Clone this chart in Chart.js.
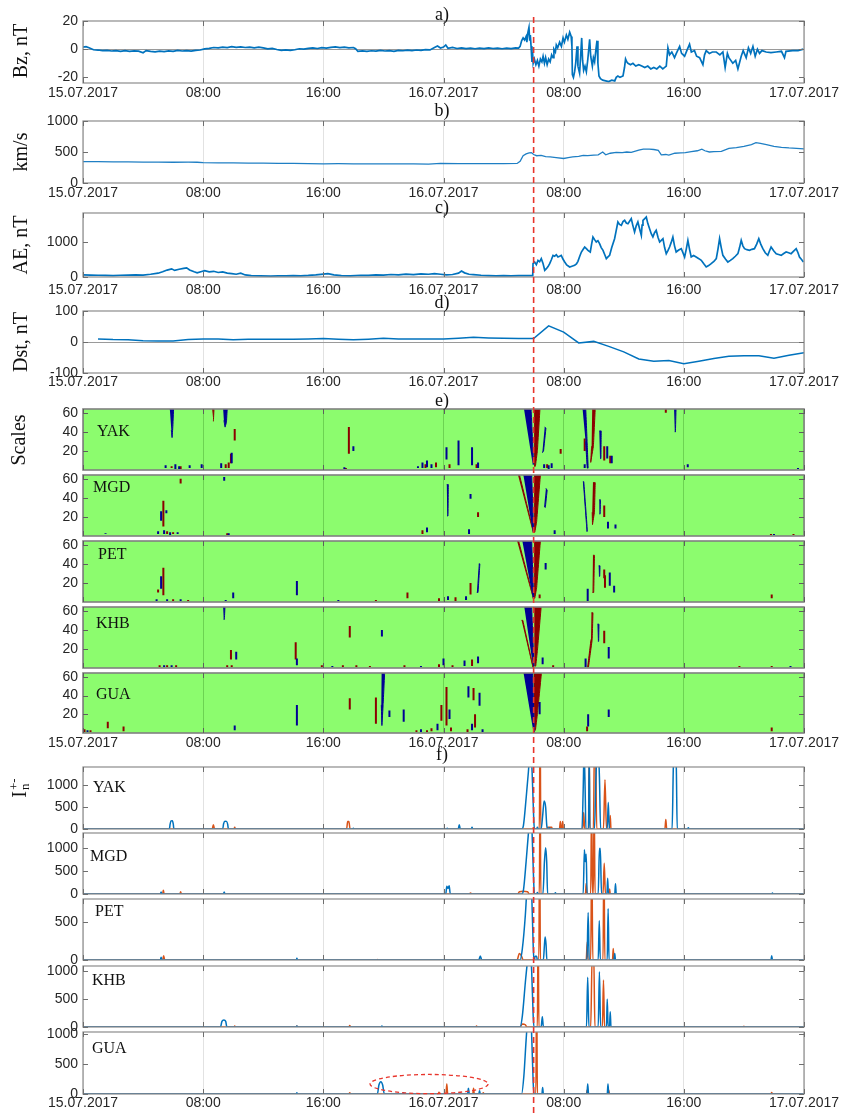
<!DOCTYPE html>
<html><head><meta charset="utf-8">
<script src="https://cdn.jsdelivr.net/npm/chart.js@4.4.1/dist/chart.umd.min.js"></script>
<style>
html,body{margin:0;padding:0;background:#fff;}
#fig{position:relative;width:846px;height:1113px;overflow:hidden;background:#fff;}
#fig canvas{position:absolute;left:0;}
.t{position:absolute;font-family:'Liberation Serif','DejaVu Serif',serif;font-size:18px;color:#111;white-space:nowrap;transform:translate(-50%,-50%);z-index:7;}
.st{position:absolute;font-family:'Liberation Serif','DejaVu Serif',serif;font-size:16px;color:#111;white-space:nowrap;transform:translateY(-50%);z-index:7;}
.rot{position:absolute;font-family:'Liberation Serif','DejaVu Serif',serif;font-size:20px;color:#111;white-space:nowrap;transform:translate(-50%,-50%) rotate(-90deg);z-index:7;}
</style></head><body><div id="fig"></div>
<script>
// ---------------- DATA (time in hours from 15.07.2017 00:00) ----------------
const TIME_TICK_HOURS = [0, 8, 16, 24, 32, 40, 48];
const TIME_TICK_LABELS = ['15.07.2017','08:00','16:00','16.07.2017','08:00','16:00','17.07.2017'];
const EVENT_HOUR = 30;

const bzData = [[0,1.5],[0.2,1.8],[0.4,1.0],[0.7,-0.4],[1.0,-0.6],[1.3,-1.0],[1.6,-0.8],[1.9,-1.3],[2.2,-1.0],[2.5,-1.5],[2.8,-1.1],[3.1,-1.6],[3.4,-1.2],[3.7,-1.4],[4.0,-2.5],[4.2,-1.0],[4.5,-1.6],[4.8,-1.9],[5.1,-1.4],[5.4,-1.7],[5.7,-1.2],[6.0,-1.5],[6.3,-0.9],[6.6,-1.3],[6.9,-1.0],[7.2,-1.4],[7.5,-0.8],[7.8,-0.6],[8.1,0.2],[8.4,0.6],[8.7,1.2],[9.0,0.9],[9.3,1.5],[9.6,1.1],[9.9,1.8],[10.2,1.3],[10.5,1.6],[10.8,1.2],[11.1,1.5],[11.4,1.0],[11.7,1.4],[12.0,0.9],[12.3,0.2],[12.6,0.6],[12.9,-0.2],[13.2,-0.8],[13.5,-0.5],[13.8,-0.9],[14.1,-0.4],[14.4,0.3],[14.7,0.0],[15.0,0.6],[15.3,0.9],[15.6,0.5],[15.9,1.1],[16.2,0.7],[16.5,1.3],[16.8,1.6],[17.1,1.1],[17.4,1.5],[17.7,1.0],[18.0,1.2],[18.15,0.3],[18.3,-1.6],[18.6,-1.2],[18.9,-1.6],[19.2,-1.1],[19.5,-1.4],[19.8,-0.9],[20.1,-1.3],[20.4,-1.0],[20.7,-1.5],[21.0,-0.8],[21.3,-1.1],[21.6,-0.7],[21.9,-1.0],[22.2,-0.6],[22.5,-0.9],[22.8,-0.3],[23.1,-0.5],[23.4,1.2],[23.6,2.2],[23.8,0.8],[24.0,1.5],[24.15,3.0],[24.3,0.6],[24.6,1.3],[24.9,0.5],[25.2,0.9],[25.5,0.4],[25.8,0.8],[26.1,0.3],[26.4,0.7],[26.7,0.4],[27.0,0.9],[27.3,0.5],[27.6,0.8],[27.9,0.3],[28.2,0.7],[28.5,0.4],[28.8,0.9],
[29.0,0.8],[29.1,2],[29.2,6],[29.3,8],[29.4,6.5],[29.5,9],[29.55,5],[29.62,12],[29.69,15.5],[29.74,6],[29.78,10],[29.83,2],[29.89,-9],[29.93,-2],[29.97,-10],[30.05,-7],[30.15,-11],[30.25,-8],[30.35,-12],[30.45,-7],[30.55,-9],[30.63,-5],[30.72,-10],[30.8,-6],[30.9,-11],[31.0,-7],[31.1,-9],[31.2,-4],[31.29,-6],[31.35,0],[31.45,-2],[31.51,3],[31.6,1],[31.73,5],[31.85,2],[31.96,8],[32.05,5],[32.18,10],[32.28,7],[32.4,12],[32.5,9],[32.55,2],[32.58,-18],[32.65,-20],[32.73,-16],[32.8,-10],[32.89,2],[32.95,-12],[33.06,-17],[33.13,-5],[33.2,8],[33.26,-8],[33.33,-15],[33.42,-12],[33.51,-16],[33.6,-8],[33.73,7],[33.8,-5],[33.91,-12],[33.98,-6],[34.06,-9],[34.15,0],[34.22,6],[34.28,-10],[34.35,-19],[34.45,-21],[34.6,-22],[34.8,-22.5],[35.0,-23],[35.2,-22],[35.4,-22.5],[35.5,-20],[35.61,-19],[35.75,-20],[35.95,-19],[36.05,-13],[36.12,-7],[36.2,-9],[36.28,-10],[36.45,-11],[36.61,-10],[36.8,-12],[37.0,-11],[37.2,-12],[37.4,-13],[37.6,-12],[37.8,-14],[38.0,-13],[38.2,-14],[38.4,-12],[38.6,-14],[38.83,-12],[38.94,1],[39.05,-4],[39.2,-2],[39.38,-6],[39.5,-3],[39.72,2],[39.85,-3],[40.05,-5],[40.2,-1],[40.38,3.5],[40.5,-2],[40.71,-1],[40.85,-5],[41.05,-6],[41.27,-11],[41.38,-4],[41.49,-1],[41.7,-3],[41.9,-2],[42.16,-2],[42.4,-4],[42.6,-2],[42.75,-13],[42.9,-3],[43.0,-6],[43.26,-10],[43.45,-8],[43.6,-14],[43.82,-5],[43.95,-1],[44.15,-6],[44.3,1],[44.45,-3],[44.6,2],[44.75,-5],[44.9,0],[45.04,-3],[45.2,-1],[45.48,-2],[45.8,-2.5],[46.15,-2],[46.5,-1.5],[46.7,-6],[46.8,-1.5],[47.25,-1],[47.6,-1],[47.96,0]];

const vswData = [[0,345],[1,344],[2,342],[3,340],[4,338],[5,337],[6,335],[7,336],[7.6,335],[8,328],[9,326],[10,325],[11,322],[12,320],[13,318],[14,315],[15,312],[16,310],[17,311],[18,310],[19,309],[20,308],[21,310],[22,310],[23,305],[23.8,318],[25,312],[26,312],[27,313],[28,313],[28.9,315],[29.1,350],[29.3,440],[29.5,470],[29.7,485],[29.85,490],[30.0,460],[30.2,440],[30.5,445],[30.8,425],[31.1,420],[31.5,410],[32,395],[32.3,410],[32.6,420],[33,430],[33.3,445],[33.6,440],[34,450],[34.3,455],[34.6,500],[34.8,455],[35.1,480],[35.5,495],[35.9,490],[36.2,500],[36.5,495],[37,530],[37.3,545],[37.7,545],[38,540],[38.3,525],[38.5,455],[38.8,460],[39,450],[39.4,480],[39.8,485],[40.1,490],[40.5,505],[40.9,520],[41.2,545],[41.4,520],[41.7,500],[42,505],[42.5,510],[43,560],[43.5,570],[44,590],[44.5,620],[44.8,650],[45.1,640],[45.5,620],[46,590],[46.5,575],[47,565],[47.5,560],[48,550]];

const aeData = [[0,60],[0.5,55],[1,50],[1.5,45],[2,42],[2.5,50],[3,55],[3.5,62],[4,55],[4.5,80],[5,110],[5.3,150],[5.6,200],[5.9,235],[6.1,190],[6.4,225],[6.7,250],[6.9,265],[7.1,205],[7.4,150],[7.6,120],[7.9,160],[8.1,185],[8.4,150],[8.7,165],[9.0,130],[9.3,145],[9.6,110],[9.9,100],[10.2,80],[10.5,110],[10.8,60],[11.2,40],[11.8,30],[12.5,25],[13,35],[13.5,30],[14,42],[14.5,35],[15,45],[15.5,60],[16,85],[16.3,95],[16.7,60],[17.2,40],[17.8,35],[18.5,50],[19,45],[19.5,62],[20,55],[20.5,72],[21,60],[21.5,82],[22,70],[22.5,92],[23,80],[23.4,100],[23.8,80],[24.2,60],[24.6,72],[25,110],[25.2,170],[25.4,120],[25.7,80],[26,70],[26.5,50],[27,42],[27.5,35],[28,42],[28.5,35],[29,38],[29.5,40],[29.94,42],
[29.96,385],[30.07,430],[30.18,356],[30.29,480],[30.4,440],[30.51,530],[30.62,400],[30.74,193],[30.85,241],[30.96,300],[31.07,385],[31.18,500],[31.29,626],[31.4,600],[31.51,645],[31.62,578],[31.73,600],[31.84,626],[31.95,520],[32.07,433],[32.2,350],[32.4,289],[32.55,310],[32.73,337],[32.85,380],[32.95,453],[33.07,600],[33.18,722],[33.3,800],[33.4,867],[33.51,820],[33.62,771],[33.7,740],[33.77,722],[33.86,950],[33.95,1156],[34.06,1080],[34.17,1012],[34.28,1050],[34.39,963],[34.5,850],[34.62,771],[34.73,650],[34.84,530],[34.95,580],[35.06,626],[35.2,850],[35.39,1108],[35.5,1350],[35.61,1590],[35.72,1520],[35.84,1493],[35.95,1600],[36.06,1638],[36.17,1560],[36.28,1541],[36.4,1620],[36.5,1686],[36.6,1500],[36.72,1300],[36.83,1480],[36.94,1590],[37.05,1400],[37.17,1204],[37.22,1500],[37.28,1638],[37.4,1690],[37.5,1734],[37.6,1550],[37.72,1397],[37.83,1250],[37.94,1156],[38.05,1280],[38.16,1349],[38.28,1150],[38.39,1012],[38.5,1060],[38.61,1108],[38.72,850],[38.83,674],[38.94,760],[39.05,867],[39.16,1000],[39.27,1156],[39.38,900],[39.49,722],[39.66,780],[39.83,819],[39.94,700],[40.05,578],[40.16,800],[40.27,1060],[40.38,800],[40.49,578],[40.65,620],[40.82,578],[41.0,530],[41.16,482],[41.33,380],[41.49,289],[41.65,330],[41.82,385],[42.0,450],[42.16,530],[42.27,800],[42.38,1108],[42.49,850],[42.6,626],[42.77,520],[42.93,433],[43.1,480],[43.26,530],[43.43,600],[43.6,674],[43.71,850],[43.82,1060],[43.93,900],[44.04,819],[44.2,790],[44.37,771],[44.53,800],[44.7,819],[44.85,950],[44.99,1108],[45.12,950],[45.26,819],[45.42,700],[45.59,626],[45.7,750],[45.81,867],[45.98,760],[46.15,674],[46.31,650],[46.48,626],[46.65,680],[46.81,722],[46.98,700],[47.14,674],[47.31,750],[47.48,819],[47.6,700],[47.7,578],[47.85,500],[47.96,433]];

const dstHours = [1,2,3,4,5,6,7,8,9,10,11,12,13,14,15,16,17,18,19,20,21,22,23,24,25,26,27,28,29,30,31,32,33,34,35,36,37,38,39,40,41,42,43,44,45,46,47,48];
const dstValues = [10,8,7.5,4,3,3,8,10,10,7,9,9,9,9,10,11,9,7,9,12,10,10,10,10,12,15,13,12,11,11,52,32,-3,2,-14,-32,-55,-62,-60,-70,-62,-53,-46,-44,-44,-52,-43,-35];

// Scale maps (e): thin marks [hour, scaleFrom, scaleTo]; shapes = outlines [hour, scale]
const yakBlueMarks = [[5.5,2,5],[6.15,1,6],[6.4,1,4],[7.1,2,5],[7.9,2,6],[9.2,2,7],[9.9,7,18],[18.0,20,25],[17.4,1,3],[22.3,2,4],[22.6,2,8],[22.9,3,10],[23.2,2,6],[24.2,11,24],[25.0,5,31],[25.9,5,24],[26.3,2,8],[30.7,2,6],[31.0,1,5],[31.2,2,7],[33.4,2,6],[34.9,12,25],[35.2,7,15],[40.26,3,6],[47.6,1,2]];
const yakRedMarks = [[5.9,2,4],[6.5,1,4],[9.5,2,6],[9.7,2,8],[9.85,7,17],[10.1,31,43],[17.7,17,45],[17.5,1,2],[22.8,2,6],[23.5,3,8],[24.4,2,6],[26.2,2,6],[30.9,2,6],[31.8,17,22],[33.4,20,33],[34.7,10,25],[35.1,7,15],[38.8,60,64]];
const yakBlueShapes = [[[5.78,64],[6.03,64],[5.98,45],[5.93,34],[5.88,42]],[[9.33,64],[9.6,64],[9.55,50],[9.46,45],[9.38,52]],[[29.36,64],[29.83,64],[30.0,6],[29.94,6]],[[30.74,45],[30.82,44],[30.66,20],[30.58,18]],[[33.26,64],[33.47,64],[33.56,30],[33.63,2],[33.57,2],[33.46,30]],[[34.37,41],[34.5,41],[34.48,12],[34.42,12]],[[39.35,64],[39.48,64],[39.44,40],[39.4,40]]];
const yakRedShapes = [[[8.6,64],[8.72,64],[8.68,51]],[[30.03,64],[30.42,64],[30.25,20],[30.12,4],[30.03,4]],[[33.9,64],[34.1,64],[33.98,25],[33.8,8],[33.86,25]]];

const mgdBlueMarks = [[5.2,16,26],[5.55,24,27],[9.4,58,62],[5.0,2,5],[5.4,2,6],[5.8,1,4],[6.3,2,4],[1.5,2,3],[9.7,1,3],[25.8,39,44],[25.7,2,7],[22.9,4,9],[31.4,2,6],[34.95,8,15],[35.45,8,12],[46,1,2]];
const mgdRedMarks = [[6.5,55,60],[5.35,10,37],[5.6,2,5],[6.0,2,4],[9.6,1,3],[26.3,20,25],[22.6,2,6],[34.7,20,32],[45.8,1,2],[47.3,1,2]];
const mgdBlueShapes = [[[24.22,54],[24.32,54],[24.3,21],[24.25,21]],[[29.32,64],[29.87,64],[30.0,4],[29.95,4]],[[30.82,50],[30.9,48],[30.78,30],[30.7,31]],[[33.28,57],[33.34,57],[33.58,5],[33.52,5]],[[34.37,38],[34.45,38],[34.43,23],[34.39,23]]];
const mgdRedShapes = [[[28.96,64],[29.06,64],[30.0,4],[29.95,4]],[[30.03,64],[30.45,64],[30.2,15],[30.08,4],[30.03,4]],[[33.95,56],[34.1,56],[34.05,25],[33.92,12],[33.9,25]]];

const petBlueMarks = [[5.2,14,27],[10.0,4,10],[14.24,7,22],[33.6,1,14],[35.07,17,31],[35.36,10,17],[30.8,34,41],[24.3,2,6],[25.5,2,6],[4.9,1,3],[5.6,1,3],[6.5,1,3],[9.5,1,2],[17.0,1,2]];
const petRedMarks = [[5.35,7,36],[5.0,10,13],[6.0,1,3],[7.0,1,2],[19.5,1,2],[21.6,4,10],[23.7,1,4],[24.8,1,5],[25.8,8,20],[30.4,4,8],[34.7,25,34],[34.75,15,28],[45.85,4,8]];
const petBlueShapes = [[[26.35,40],[26.42,40],[26.3,10],[26.22,10]],[[29.25,64],[29.87,64],[30.0,4],[29.95,4]],[[34.33,38],[34.42,38],[34.4,27],[34.35,27]]];
const petRedShapes = [[[28.9,64],[29.0,64],[30.0,4],[29.95,4]],[[30.03,64],[30.45,64],[30.2,15],[30.08,4],[30.03,4]],[[33.95,49],[34.05,49],[34.0,10],[33.92,10]]];

const khbBlueMarks = [[10.2,9,17],[14.24,3,10],[19.9,33,40],[24.0,3,10],[25.4,2,8],[26.3,5,12],[30.6,4,11],[35.0,10,22],[33.46,1,10],[5.4,1,3],[5.9,1,3],[16.6,1,2],[22.5,1,2],[47.1,1,2]];
const khbRedMarks = [[9.85,9,19],[14.16,9,27],[17.76,32,44],[5.1,1,3],[5.6,1,3],[6.2,1,3],[9.6,1,3],[9.9,1,3],[15.9,1,3],[17.3,1,3],[18.2,1,3],[19.1,1,2],[21.4,1,3],[23.7,1,4],[24.6,1,3],[25.9,2,9],[31.3,1,3],[34.7,26,39],[43.7,1,2],[45.85,1,2]];
const khbBlueShapes = [[[9.33,64],[9.45,64],[9.41,51],[9.37,51]],[[29.38,64],[29.87,64],[30.02,2],[29.96,2]],[[34.25,46],[34.35,46],[34.33,28],[34.28,28]]];
const khbRedShapes = [[[29.2,50],[29.28,50],[29.97,1],[29.92,1]],[[30.04,64],[30.5,64],[30.25,18],[30.14,2],[30.05,2]],[[33.85,58],[33.95,58],[33.9,30],[33.65,1],[33.6,1],[33.82,30]]];

const guaBlueMarks = [[10.1,3,8],[14.24,8,30],[20.4,17,24],[21.35,12,25],[23.6,3,10],[24.4,15,25],[25.66,38,50],[25.9,3,10],[26.4,29,43],[30.4,20,33],[33.63,7,20],[35.0,17,25],[0.3,1,3],[22.5,1,4],[26.6,1,4]];
const guaRedMarks = [[0.1,1,4],[0.5,1,3],[1.65,5,12],[2.7,2,7],[17.76,25,37],[19.5,10,38],[22.2,1,3],[22.9,1,3],[23.2,2,5],[23.86,13,30],[24.2,8,49],[24.5,2,6],[26.0,35,48],[26.1,6,20],[25.6,1,4],[33.56,2,7],[45.85,2,6]];
const guaBlueShapes = [[[19.88,64],[20.08,64],[19.98,30],[19.9,8],[19.86,30]],[[29.33,64],[29.93,64],[30.05,0],[30.0,0]]];
const guaRedShapes = [[[30.0,64],[30.52,64],[30.25,20],[30.12,3],[30.05,3]]];

// In+- (f): [hour, value]
const inYakBlue = [[0,0],[5.75,0],[5.8,110],[5.86,185],[5.95,190],[6.01,110],[6.05,0],[9.3,0],[9.36,120],[9.45,178],[9.55,175],[9.63,110],[9.68,0],[17.95,0],[18.0,20],[18.05,0],[24.2,0],[24.25,20],[24.3,0],[24.98,0],[25.05,100],[25.12,0],[25.85,0],[25.9,40],[25.95,0],[29.2,0],[29.32,80],[29.5,700],[29.65,1300],[29.79,1900],[29.9,1300],[30.0,300],[30.05,0],[30.2,0],[30.25,40],[30.3,0],[30.5,0],[30.6,300],[30.7,640],[30.8,500],[30.87,100],[30.92,0],[31.0,0],[31.05,30],[31.1,0],[33.22,0],[33.3,900],[33.36,1800],[33.43,900],[33.48,0],[33.66,0],[33.7,1800],[33.74,0],[34.05,0],[34.15,1200],[34.27,2000],[34.38,1200],[34.46,0],[34.9,0],[34.97,614],[35.04,0],[39.22,0],[39.3,1400],[39.4,2100],[39.5,1400],[39.56,0],[40.25,0],[40.3,30],[40.35,0],[48,0]];
const inYakOrange = [[0,0],[8.6,0],[8.68,100],[8.76,0],[10.05,0],[10.1,40],[10.15,0],[17.55,0],[17.62,170],[17.7,170],[17.78,0],[29.9,0],[30.0,30],[30.05,0],[30.38,0],[30.43,2500],[30.48,0],[30.9,0],[30.95,40],[31.2,40],[31.25,0],[31.72,0],[31.78,170],[31.83,0],[31.88,0],[31.93,170],[31.98,0],[33.27,0],[33.33,380],[33.4,0],[33.65,0],[33.7,1800],[33.75,0],[33.98,0],[34.05,2000],[34.12,2000],[34.2,0],[34.65,0],[34.75,1130],[34.85,0],[35.05,0],[35.1,307],[35.15,0],[38.74,0],[38.8,215],[38.86,0],[48,0]];
const inMgdBlue = [[0,0],[5.15,0],[5.2,43],[5.25,0],[9.35,0],[9.4,43],[9.45,0],[24.15,0],[24.22,170],[24.3,120],[24.38,180],[24.45,0],[29.2,0],[29.32,80],[29.5,700],[29.65,1300],[29.79,1900],[29.9,1300],[30.0,300],[30.05,0],[30.2,0],[30.25,30],[30.3,0],[30.62,0],[30.72,700],[30.8,1000],[30.87,700],[30.93,0],[31.4,0],[31.45,25],[31.5,0],[33.3,0],[33.38,960],[33.43,700],[33.5,860],[33.56,0],[34.3,0],[34.38,985],[34.44,985],[34.52,0],[34.88,0],[34.93,343],[34.98,0],[35.4,0],[35.45,221],[35.5,0],[45.85,0],[45.9,20],[45.95,0],[48,0]];
const inMgdOrange = [[0,0],[5.3,0],[5.35,79],[5.4,0],[6.45,0],[6.5,50],[6.55,0],[25.7,0],[25.8,20],[25.9,0],[28.95,0],[29.05,50],[29.3,57],[29.6,50],[29.7,0],[30.38,0],[30.43,2500],[30.48,0],[33.45,0],[33.5,235],[33.55,0],[33.8,0],[33.86,2000],[33.92,0],[33.97,0],[34.03,2000],[34.09,0],[34.62,0],[34.7,664],[34.78,0],[35.02,0],[35.06,107],[35.1,0],[48,0]];
const inPetBlue = [[0,0],[5.15,0],[5.2,35],[5.25,0],[14.2,0],[14.24,22],[14.28,0],[26.35,0],[26.45,52],[26.55,0],[29.1,0],[29.25,150],[29.45,600],[29.6,1100],[29.75,1300],[29.87,900],[29.97,200],[30.02,0],[30.05,0],[30.1,50],[30.2,50],[30.25,0],[30.65,0],[30.72,200],[30.77,304],[30.83,200],[30.88,0],[33.55,0],[33.63,630],[33.7,0],[34.3,0],[34.37,522],[34.44,0],[34.9,0],[34.96,683],[35.02,0],[35.35,0],[35.4,87],[35.45,0],[45.8,0],[45.85,57],[45.9,0],[48,0]];
const inPetOrange = [[0,0],[5.3,0],[5.37,57],[5.44,0],[19.55,0],[19.6,8],[19.65,0],[28.9,0],[29.05,87],[29.2,50],[29.3,0],[30.35,0],[30.4,2000],[30.45,0],[33.5,0],[33.57,239],[33.62,0],[33.8,0],[33.87,1500],[33.94,0],[34.62,0],[34.68,1500],[34.74,0],[35.25,0],[35.3,152],[35.35,0],[48,0]];
const inKhbBlue = [[0,0],[9.15,0],[9.25,100],[9.38,125],[9.5,100],[9.58,0],[14.2,0],[14.24,20],[14.28,0],[19.85,0],[19.9,20],[19.95,0],[29.1,0],[29.25,200],[29.45,800],[29.6,1200],[29.75,1500],[29.87,1000],[29.97,200],[30.02,0],[30.5,0],[30.58,184],[30.65,0],[33.52,0],[33.6,887],[33.68,0],[34.3,0],[34.38,988],[34.46,0],[34.85,0],[34.9,500],[34.96,0],[35.05,0],[35.1,274],[35.15,0],[48,0]];
const inKhbOrange = [[0,0],[10.05,0],[10.1,20],[10.15,0],[14.2,0],[14.24,20],[14.28,0],[17.7,0],[17.76,25],[17.82,0],[26.15,0],[26.2,20],[26.25,0],[29.1,0],[29.25,54],[29.45,40],[29.55,0],[30.25,0],[30.3,2000],[30.35,0],[33.8,0],[33.9,1300],[34.0,1300],[34.08,0],[34.58,0],[34.65,839],[34.72,0],[43.95,0],[44.0,15],[44.05,0],[48,0]];
const inGuaBlue = [[0,0],[14.2,0],[14.24,20],[14.28,0],[19.6,0],[19.7,150],[19.83,206],[19.95,150],[20.06,0],[21.3,0],[21.35,20],[21.4,0],[25.6,0],[25.66,94],[25.72,0],[26.35,0],[26.4,56],[26.45,0],[29.2,0],[29.35,300],[29.5,900],[29.65,1400],[29.78,1500],[29.88,900],[29.97,200],[30.02,0],[30.55,0],[30.6,110],[30.65,0],[33.55,0],[33.6,167],[33.66,0],[34.9,0],[34.95,167],[35.0,0],[48,0]];
const inGuaOrange = [[0,0],[17.7,0],[17.76,20],[17.82,0],[23.65,0],[23.7,30],[23.75,0],[24.16,0],[24.22,167],[24.28,0],[25.95,0],[26.0,94],[26.05,0],[26.6,0],[26.65,20],[26.7,0],[30.15,0],[30.2,2000],[30.25,0],[33.52,0],[33.56,67],[33.6,0],[34.95,0],[35.0,67],[35.05,0],[45.8,0],[45.85,25],[45.9,0],[48,0]];

// ---------------- STYLE ----------------
const TICK_FONT = {family: "'Liberation Sans', Arial, sans-serif", size: 14};
const TICK_COLOR = '#262626';
const LINE_BLUE = '#0072BD';
const LINE_ORANGE = '#D95319';
const SCALE_GREEN = '#8cfc6e';
const SCALE_BLUE = '#000094';
const SCALE_RED = '#8b0000';
const EVENT_RED = '#e8352c';

const fig = document.getElementById('fig');
const charts = [];

function toXY(arr) { return arr.map(p => ({x: p[0], y: p[1]})); }
function seriesDs(arr, color, width, extra) {
  return Object.assign({data: toXY(arr), borderColor: color, backgroundColor: color, borderWidth: width, pointRadius: 0, fill: false, tension: 0}, extra || {});
}
function scaleDatasets(blueMarks, redMarks, blueShapes, redShapes) {
  const seg = marks => { const pts = []; marks.forEach(m => { pts.push({x: m[0], y: m[1]}, {x: m[0], y: m[2]}, {x: m[0], y: null}); }); return pts; };
  const shape = (s, c) => ({data: toXY(s), borderColor: c, backgroundColor: c, borderWidth: 1, pointRadius: 0, fill: 'shape', tension: 0.0001});
  const ds = [];
  blueShapes.forEach(s => ds.push(shape(s, SCALE_BLUE)));
  ds.push({data: seg(blueMarks), borderColor: SCALE_BLUE, borderWidth: 2, pointRadius: 0, fill: false, tension: 0, spanGaps: false});
  redShapes.forEach(s => ds.push(shape(s, SCALE_RED)));
  ds.push({data: seg(redMarks), borderColor: SCALE_RED, borderWidth: 2, pointRadius: 0, fill: false, tension: 0, spanGaps: false});
  return ds;
}
function inDatasets(blue, orange) {
  return [
    seriesDs(blue, LINE_BLUE, 1.5, {cubicInterpolationMode: 'monotone'}),
    seriesDs(orange, LINE_ORANGE, 1.5, {cubicInterpolationMode: 'monotone'})
  ];
}

function framePlugin(p) {
  return {
    id: 'frame_' + p.key,
    beforeDraw(chart) {
      const {ctx, chartArea: a} = chart;
      ctx.save();
      ctx.fillStyle = p.scalePanel ? SCALE_GREEN : '#ffffff';
      ctx.fillRect(a.left, a.top, a.right - a.left, a.bottom - a.top);
      ctx.restore();
    },
    beforeDatasetsDraw(chart) {
      if (!p.zero) return;
      const {ctx, chartArea: a, scales} = chart;
      const y = Math.round(scales.y.getPixelForValue(0)) + 0.5;
      ctx.save(); ctx.strokeStyle = '#9a9a9a'; ctx.lineWidth = 1;
      ctx.beginPath(); ctx.moveTo(a.left, y); ctx.lineTo(a.right, y); ctx.stroke(); ctx.restore();
    },
    afterDraw(chart) {
      const {ctx, chartArea: a, scales} = chart;
      ctx.save();
      ctx.strokeStyle = p.scalePanel ? '#808080' : '#8c8c8c';
      ctx.lineWidth = p.scalePanel ? 1.6 : 1.2;
      ctx.strokeRect(a.left, a.top, a.right - a.left, a.bottom - a.top);
      ctx.lineWidth = 1;
      ctx.strokeStyle = p.scalePanel ? '#5e5e5e' : '#6e6e6e';
      ctx.beginPath();
      TIME_TICK_HOURS.forEach(h => {
        const x = Math.round(scales.x.getPixelForValue(h)) + 0.5;
        ctx.moveTo(x, a.bottom); ctx.lineTo(x, a.bottom - 5);
        ctx.moveTo(x, a.top); ctx.lineTo(x, a.top + 5);
      });
      p.yticks.forEach(v => {
        const y = Math.round(scales.y.getPixelForValue(v)) + 0.5;
        ctx.moveTo(a.left, y); ctx.lineTo(a.left + 5, y);
        ctx.moveTo(a.right, y); ctx.lineTo(a.right - 5, y);
      });
      ctx.stroke();
      if (p.ellipse) {
        const e = p.ellipse;
        const cx = scales.x.getPixelForValue(e.h), cy = scales.y.getPixelForValue(e.v);
        const rx = scales.x.getPixelForValue(e.h + e.dh) - cx;
        const ry = cy - scales.y.getPixelForValue(e.v + e.dv);
        ctx.setLineDash([4, 3]); ctx.strokeStyle = EVENT_RED; ctx.lineWidth = 1.3;
        ctx.beginPath(); ctx.ellipse(cx, cy, rx, ry, 0, 0, Math.PI * 2); ctx.stroke();
      }
      ctx.restore();
    }
  };
}

function makePanel(p, datasets) {
  const cTop = p.plotTop - 12;
  const cBottom = p.plotBottom + (p.showX ? 26 : 10);
  const H = cBottom - cTop;
  const plotH = p.plotBottom - p.plotTop;
  const cv = document.createElement('canvas');
  cv.width = 846; cv.height = H;
  cv.style.top = cTop + 'px'; cv.style.width = '846px'; cv.style.height = H + 'px';
  fig.appendChild(cv);
  const chart = new Chart(cv.getContext('2d'), {
    type: 'line',
    data: {datasets},
    options: {
      responsive: false, animation: false, events: [], devicePixelRatio: 1,
      layout: {padding: {top: 12, left: 0, right: 42, bottom: 0}},
      plugins: {legend: {display: false}, tooltip: {enabled: false}},
      scales: {
        x: {
          type: 'linear', min: 0, max: 48,
          afterBuildTicks: s => { s.ticks = TIME_TICK_HOURS.map(v => ({value: v})); },
          afterFit: s => { s.height = H - 12 - plotH; s.paddingLeft = 0; s.paddingRight = 0; },
          ticks: {display: !!p.showX, autoSkip: false, maxRotation: 0, minRotation: 0, padding: p.xPad || 1, font: TICK_FONT, color: TICK_COLOR,
                  callback: v => TIME_TICK_LABELS[TIME_TICK_HOURS.indexOf(v)]},
          grid: {color: p.scalePanel ? 'rgba(60,150,40,0.4)' : '#e2e2e2', lineWidth: 1, drawTicks: false},
          border: {display: false}
        },
        y: {
          type: 'linear', min: p.ymin, max: p.ymax,
          afterBuildTicks: s => { s.ticks = p.yticks.map(v => ({value: v})); },
          afterFit: s => { s.width = 83; s.paddingTop = 0; s.paddingBottom = 0; },
          ticks: {padding: 5, font: TICK_FONT, color: TICK_COLOR, callback: v => String(v)},
          grid: {display: false, drawTicks: false},
          border: {display: false}
        }
      }
    },
    plugins: [framePlugin(p)]
  });
  charts.push(chart);
  return chart;
}

const SCALE_Y = {ymin: 0, ymax: 64, yticks: [20, 40, 60], scalePanel: true};

makePanel({key: 'a', plotTop: 21, plotBottom: 83, ymin: -24, ymax: 20, yticks: [-20, 0, 20], showX: true, xPad: 2, zero: true}, [seriesDs(bzData, LINE_BLUE, 1.7)]);
makePanel({key: 'b', plotTop: 121, plotBottom: 183, ymin: 0, ymax: 1000, yticks: [0, 500, 1000], showX: true, xPad: 2}, [seriesDs(vswData, '#1f7fc4', 1.3)]);
makePanel({key: 'c', plotTop: 213, plotBottom: 277, ymin: 0, ymax: 1850, yticks: [0, 1000], showX: true, xPad: 5}, [seriesDs(aeData, LINE_BLUE, 1.7)]);
makePanel({key: 'd', plotTop: 311, plotBottom: 373, ymin: -100, ymax: 100, yticks: [-100, 0, 100], showX: true, xPad: 1, zero: true}, [seriesDs(dstHours.map((h, i) => [h, dstValues[i]]), LINE_BLUE, 1.5)]);

makePanel(Object.assign({key: 'eYAK', plotTop: 409, plotBottom: 470}, SCALE_Y), scaleDatasets(yakBlueMarks, yakRedMarks, yakBlueShapes, yakRedShapes));
makePanel(Object.assign({key: 'eMGD', plotTop: 475, plotBottom: 536}, SCALE_Y), scaleDatasets(mgdBlueMarks, mgdRedMarks, mgdBlueShapes, mgdRedShapes));
makePanel(Object.assign({key: 'ePET', plotTop: 541, plotBottom: 602}, SCALE_Y), scaleDatasets(petBlueMarks, petRedMarks, petBlueShapes, petRedShapes));
makePanel(Object.assign({key: 'eKHB', plotTop: 607, plotBottom: 668}, SCALE_Y), scaleDatasets(khbBlueMarks, khbRedMarks, khbBlueShapes, khbRedShapes));
makePanel(Object.assign({key: 'eGUA', plotTop: 673, plotBottom: 733, showX: true, xPad: 1.5}, SCALE_Y), scaleDatasets(guaBlueMarks, guaRedMarks, guaBlueShapes, guaRedShapes));

makePanel({key: 'fYAK', plotTop: 767, plotBottom: 829, ymin: 0, ymax: 1420, yticks: [0, 500, 1000]}, inDatasets(inYakBlue, inYakOrange));
makePanel({key: 'fMGD', plotTop: 833, plotBottom: 894, ymin: 0, ymax: 1320, yticks: [0, 500, 1000]}, inDatasets(inMgdBlue, inMgdOrange));
makePanel({key: 'fPET', plotTop: 899, plotBottom: 960, ymin: 0, ymax: 810, yticks: [0, 500]}, inDatasets(inPetBlue, inPetOrange));
makePanel({key: 'fKHB', plotTop: 966, plotBottom: 1027, ymin: 0, ymax: 1090, yticks: [0, 500, 1000]}, inDatasets(inKhbBlue, inKhbOrange));
makePanel({key: 'fGUA', plotTop: 1032, plotBottom: 1094, ymin: 0, ymax: 1035, yticks: [0, 500, 1000], showX: true, xPad: 0.5,
           ellipse: {h: 23.04, v: 166, dh: 3.93, dv: 160}}, inDatasets(inGuaBlue, inGuaOrange));

// event marker: dashed vertical line through all panels at EVENT_HOUR
(function () {
  const ov = document.createElement('canvas');
  ov.width = 846; ov.height = 1113;
  ov.style.top = '0px'; ov.style.zIndex = 6; ov.style.pointerEvents = 'none';
  fig.appendChild(ov);
  const ctx = ov.getContext('2d');
  const x = charts[0].scales.x.getPixelForValue(EVENT_HOUR);
  ctx.strokeStyle = EVENT_RED; ctx.lineWidth = 1.6; ctx.setLineDash([6, 4]);
  ctx.beginPath(); ctx.moveTo(x, 17); ctx.lineTo(x, 1113); ctx.stroke();
})();

// text labels
const labels = [
  ['t', 'a)', 442, 14], ['t', 'b)', 442, 110], ['t', 'c)', 442, 207], ['t', 'd)', 442, 302], ['t', 'e)', 442, 400], ['t', 'f)', 442, 754],
  ['rot', 'Bz, nT', 20, 51], ['rot', 'km/s', 20, 152], ['rot', 'AE, nT', 20, 245], ['rot', 'Dst, nT', 20, 342], ['rot', 'Scales', 18, 440],
  ['st', 'YAK', 97, 431], ['st', 'MGD', 93, 487], ['st', 'PET', 98, 554], ['st', 'KHB', 96, 623], ['st', 'GUA', 96, 694],
  ['st', 'YAK', 93, 787], ['st', 'MGD', 90, 856], ['st', 'PET', 95, 911], ['st', 'KHB', 92, 980], ['st', 'GUA', 92, 1048]
];
labels.forEach(([cls, txt, x, y]) => {
  const d = document.createElement('div');
  d.className = cls; d.textContent = txt;
  d.style.left = x + 'px'; d.style.top = y + 'px';
  fig.appendChild(d);
});
const inLab = document.createElement('div');
inLab.className = 'rot';
inLab.style.left = '19px'; inLab.style.top = '788px'; inLab.style.fontSize = '20px';
inLab.innerHTML = 'I<span style="display:inline-block;vertical-align:-3px;font-size:13px;line-height:11px;text-align:left;margin-left:1px">+-<br>n</span>';
fig.appendChild(inLab);
</script></body></html>
